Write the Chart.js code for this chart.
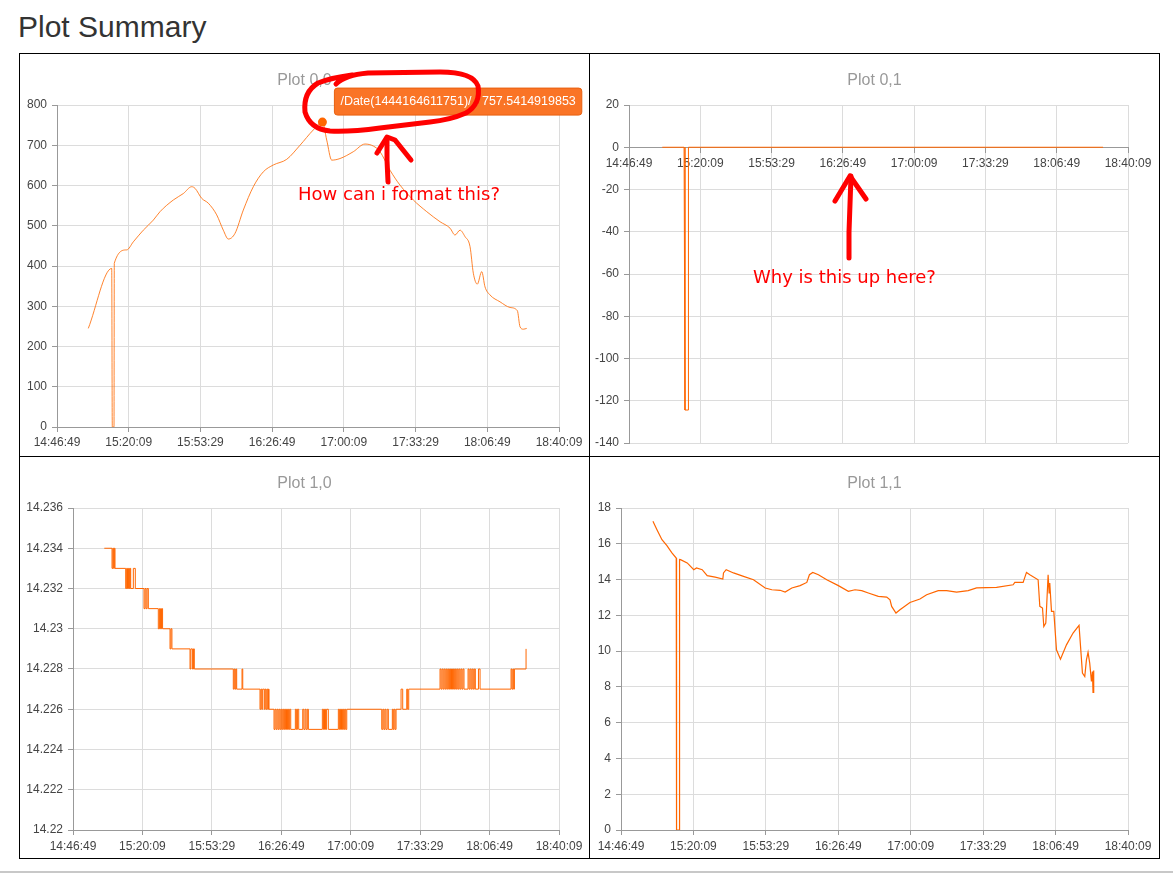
<!DOCTYPE html>
<html>
<head>
<meta charset="utf-8">
<script src="https://cdn.jsdelivr.net/npm/chart.js@4.4.0/dist/chart.umd.min.js"></script>
<style>
html,body{margin:0;padding:0;background:#fff;width:1173px;height:874px;overflow:hidden;}
body{position:relative;font-family:"Liberation Sans",Arial,Helvetica,sans-serif;}
h2{position:absolute;left:18px;top:12px;margin:0;font-size:30px;line-height:30px;font-weight:normal;color:#333;}
.line{position:absolute;background:#000;}
.cell{position:absolute;}
.cell canvas{display:block;}
.note{position:absolute;color:#f00;font-family:"DejaVu Sans",Verdana,sans-serif;font-size:18px;line-height:18px;white-space:nowrap;z-index:6;}
svg.ann{position:absolute;left:0;top:0;pointer-events:none;z-index:5;}
.foot{position:absolute;left:0;top:871px;width:1173px;height:2px;background:#c8c8c8;}
</style>
</head>
<body>
<h2>Plot Summary</h2>

<div class="cell" style="left:20px;top:54px;width:569px;height:402px;"><canvas id="c00" width="569" height="402"></canvas></div>
<div class="cell" style="left:590px;top:54px;width:569px;height:402px;"><canvas id="c01" width="569" height="402"></canvas></div>
<div class="cell" style="left:20px;top:457px;width:569px;height:401px;"><canvas id="c10" width="569" height="401"></canvas></div>
<div class="cell" style="left:590px;top:457px;width:569px;height:401px;"><canvas id="c11" width="569" height="401"></canvas></div>

<div class="line" style="left:19px;top:53px;width:1141px;height:1px;"></div>
<div class="line" style="left:19px;top:858px;width:1141px;height:1px;"></div>
<div class="line" style="left:19px;top:53px;width:1px;height:806px;"></div>
<div class="line" style="left:1159px;top:53px;width:1px;height:806px;"></div>
<div class="line" style="left:589px;top:53px;width:1px;height:806px;"></div>
<div class="line" style="left:19px;top:456px;width:1141px;height:1px;"></div>
<div class="foot"></div>

<svg class="ann" width="1173" height="874" viewBox="0 0 1173 874">
  <g fill="none" stroke="#f00" stroke-width="5" stroke-linecap="round" stroke-linejoin="round">
    <path d="M336 84 Q345 75 368 73 L440 72 Q473 72 478 86 Q481 104 466 113 Q450 120 430 122 L380 128 Q350 132 330 131 Q310 129 305 112 Q303 92 318 83 Q330 78 352 75"/>
    <path d="M388 182 L387 160 L387 138"/>
    <path d="M377 153 L387 137 L395 140 L411 160"/>
    <path d="M849 258 L849 232 L851 176"/>
    <path d="M835 201 L850 176 L866 199"/>
  </g>
</svg>
<div class="note" style="left:298px;top:185px;">How can i format this?</div>
<div class="note" style="left:753px;top:268px;">Why is this up here?</div>

<script>
// ---------- data (x = seconds after the axis start 14:46:49) ----------
const timeAxisStart = '14:46:49';
const timeAxisEnd = '18:40:09';
const timeTickStep = 2000; // seconds between tick labels
const plotTitles = ['Plot 0,0', 'Plot 0,1', 'Plot 1,0', 'Plot 1,1'];

const tooltipDateMs = 1444164611751;

const plot00Points = [
  [873,245],[1526,394],[1542,0],[1590,0],[1598,407],[1944,440],[2128,460],[2407,489],
  [2686,514],[2873,535],[3244,564],[3523,580],[3757,597],[3849,593],[4036,568],[4220,556],
  [4454,527],[4638,489],[4778,467],[4964,481],[5196,539],[5475,597],[5754,634],[6033,651],
  [6406,665],[6777,700],[7148,738],[7402,757.5414919853],[7522,713],[7661,663],[7893,667],
  [8264,684],[8590,703],[8822,698],[9008,684],[9287,638],[9566,601],[9937,564],[10311,535],
  [10682,510],[10961,494],[11100,477],[11240,489],[11379,473],[11519,448],[11611,382],
  [11722,355],[11845,386],[11937,348],[12076,328],[12355,311],[12634,297],[12838,289],
  [12913,249],[13005,243],[13100,245]
];
const plot00YTicks = {min: 0, max: 800, step: 100};

const plot01Points = [
  [934,0],[1545,0],[1571,-124.4],[1660,-124.4],[1668,0],[13300,0]
];
const plot01YTicks = {min: -140, max: 20, step: 20};

const plot10Points = [
  [902,14.234],
  [1124,14.233],[1148,14.234],[1170,14.233],[1192,14.234],[1210,14.233],
  [1518,14.232],[1545,14.233],[1570,14.232],[1598,14.233],[1625,14.232],[1645,14.233],[1662,14.232],
  [1738,14.233],[1795,14.232],
  [2045,14.231],[2075,14.232],[2105,14.231],[2135,14.232],[2170,14.231],
  [2458,14.230],[2490,14.231],[2520,14.230],[2550,14.231],[2580,14.230],
  [2795,14.229],[2822,14.230],[2850,14.229],
  [3371,14.228],[3395,14.229],[3440,14.228],[3470,14.229],[3495,14.228],
  [4618,14.227],[4645,14.228],[4670,14.227],[4692,14.228],[4715,14.227],
  [4869,14.228],[4890,14.227],
  [5387,14.226],[5412,14.227],[5438,14.226],[5464,14.227],
  [5511,14.226],[5535,14.227],[5560,14.226],[5585,14.227],[5610,14.226],[5630,14.227],[5647,14.226],
  [5791,14.225],[5820,14.226],[5850,14.225],[5880,14.226],[5910,14.225],[5940,14.226],[5970,14.225],
  [6000,14.226],[6030,14.225],[6060,14.226],[6090,14.225],[6120,14.226],[6150,14.225],[6180,14.226],
  [6210,14.225],[6240,14.226],[6272,14.225],
  [6405,14.226],[6435,14.225],[6465,14.226],[6502,14.225],
  [6618,14.226],[6650,14.225],[6685,14.226],[6715,14.225],[6750,14.226],[6780,14.225],
  [7183,14.226],[7215,14.225],[7245,14.226],[7275,14.225],[7305,14.226],[7355,14.225],
  [7644,14.226],[7675,14.225],[7705,14.226],[7735,14.225],[7765,14.226],[7795,14.225],[7825,14.226],
  [7855,14.225],[7886,14.226],
  [8894,14.225],[8925,14.226],[8955,14.225],[8985,14.226],[9015,14.225],[9050,14.226],[9084,14.225],
  [9199,14.226],[9225,14.225],[9250,14.226],[9278,14.225],[9306,14.226],
  [9450,14.227],[9498,14.226],
  [9614,14.227],[9640,14.226],[9671,14.227],
  [10573,14.228],[10603,14.227],[10633,14.228],[10663,14.227],[10693,14.228],[10723,14.227],
  [10753,14.228],[10783,14.227],[10813,14.228],[10843,14.227],[10873,14.228],[10903,14.227],
  [10933,14.228],[10963,14.227],[10993,14.228],[11023,14.227],[11053,14.228],[11083,14.227],
  [11113,14.228],[11143,14.227],[11173,14.228],[11203,14.227],[11233,14.228],[11263,14.227],
  [11380,14.228],[11410,14.227],[11440,14.228],[11470,14.227],[11500,14.228],[11530,14.227],
  [11560,14.228],[11590,14.227],
  [11680,14.228],[11726,14.227],
  [12619,14.228],[12645,14.227],[12672,14.228],[12695,14.227],[12715,14.228],
  [13051,14.229]
];
const plot10YTicks = {min: 14.22, max: 14.236, step: 0.002};

const plot11Points = [
  [882,17.26],[993,16.79],[1131,16.23],[1268,15.9],[1406,15.49],[1525,15.2],[1534,0],[1610,0],
  [1617,15.12],[1644,15.11],[1828,14.93],[2010,14.55],[2085,14.65],[2242,14.55],[2380,14.22],
  [2600,14.14],[2812,14.03],[2830,14.37],[2904,14.55],[3107,14.37],[3383,14.18],[3659,13.99],
  [3981,13.53],[4165,13.43],[4394,13.4],[4532,13.3],[4717,13.53],[4946,13.66],[5131,13.84],
  [5203,14.27],[5296,14.4],[5451,14.27],[5682,13.99],[6002,13.66],[6278,13.34],[6462,13.43],
  [6647,13.38],[6829,13.25],[7105,13.06],[7337,13.02],[7428,12.87],[7474,12.5],[7593,12.13],
  [7703,12.31],[7979,12.72],[8255,12.91],[8440,13.15],[8760,13.38],[8991,13.38],[9267,13.3],
  [9587,13.38],[9819,13.53],[10370,13.56],[10828,13.71],[10875,13.84],[11104,13.84],[11197,14.4],
  [11289,14.27],[11518,13.99],[11565,12.5],[11639,12.41],[11675,11.38],[11730,11.57],[11749,12.31],
  [11794,14.27],[11822,13.25],[11840,13.81],[11887,12.22],[11951,12.22],[12025,10.07],[12135,9.55],
  [12301,10.35],[12483,11.01],[12648,11.44],[12742,8.77],[12806,8.58],[12852,9.51],[12897,9.93],
  [12943,9.33],[12990,8.3],[13018,8.86],[13034,7.69],[13053,8.92]
];
const plot11YTicks = {min: 0, max: 18, step: 2};

// ---------- helpers ----------
function clockToSeconds(s) { const p = s.split(':').map(Number); return p[0]*3600 + p[1]*60 + p[2]; }
const axisStartSec = clockToSeconds(timeAxisStart);
const axisSpan = clockToSeconds(timeAxisEnd) - axisStartSec;
function fmtClock(offset) {
  const t = Math.round(axisStartSec + offset);
  const h = Math.floor(t / 3600), m = Math.floor((t % 3600) / 60), s = t % 60;
  return [h, m, s].map(n => String(n).padStart(2, '0')).join(':');
}
function toXY(points) { return points.map(p => ({x: p[0], y: p[1]})); }

Chart.defaults.font.family = '"Liberation Sans", Arial, Helvetica, sans-serif';
Chart.defaults.font.size = 12;

const GRID = '#dcdcdc', AXIS = '#999', TICK = '#444', ORANGE = '#ff6600';

Chart.Tooltip.positioners.upRight = function(elements) {
  if (!elements.length) return false;
  const el = elements[0].element;
  return {x: el.x + 15, y: el.y - 7, xAlign: 'left', yAlign: 'bottom'};
};

function makeChart(id, o) {
  const xScale = {
    type: 'linear', min: 0, max: axisSpan,
    grid: {color: GRID, tickColor: AXIS, tickLength: 5, drawTicks: true},
    border: {color: AXIS, width: 1},
    ticks: {stepSize: timeTickStep, autoSkip: false, maxRotation: 0, minRotation: 0, color: TICK,
            font: {size: 12}, padding: o.xPad || 3, callback: v => fmtClock(v)},
    afterFit: s => {
      if (o.xHeight) s.height = o.xHeight;
      s.paddingRight = o.padRight;
    }
  };
  if (o.xAtZero) xScale.position = {y: 0};
  const yScale = {
    type: 'linear', min: o.yTicks.min, max: o.yTicks.max,
    grid: {color: GRID, tickColor: AXIS, tickLength: 5, drawTicks: true},
    border: {color: AXIS, width: 1},
    ticks: {stepSize: o.yTicks.step, color: TICK, font: {size: 12}, padding: 5,
            callback: v => String(parseFloat(Number(v).toFixed(3)))},
    afterFit: s => { s.width = o.yWidth; }
  };
  return new Chart(document.getElementById(id), {
    type: 'line',
    data: {datasets: [Object.assign({
      data: toXY(o.points),
      borderColor: o.color || ORANGE,
      borderWidth: o.lineWidth || 1,
      pointRadius: 0,
      pointHitRadius: 0,
      pointHoverRadius: 4.5,
      pointHoverBorderWidth: 0,
      pointHoverBackgroundColor: ORANGE,
      pointHoverBorderColor: ORANGE,
      fill: false
    }, o.dataset || {})]},
    options: {
      responsive: false, animation: false, devicePixelRatio: 1, events: [],
      layout: {padding: {top: 0, left: 0, right: 0, bottom: o.padBottom || 0}},
      scales: {x: xScale, y: yScale},
      plugins: {
        legend: {display: false},
        title: {display: true, text: o.title, color: '#999', font: {size: 16, weight: 'normal'},
                padding: {top: 17.4, bottom: 14.4}},
        tooltip: {
          enabled: true, position: 'upRight', displayColors: false,
          backgroundColor: '#fa7426', borderColor: '#e8600f', borderWidth: 1,
          cornerRadius: 3, caretSize: 0, caretPadding: 0,
          padding: {left: 6, right: 6, top: 6, bottom: 6},
          bodyColor: '#fff', bodyFont: {size: 12.5},
          callbacks: {
            title: () => '',
            label: ctx => '/Date(' + tooltipDateMs + ')/ : ' + ctx.parsed.y
          }
        }
      }
    }
  });
}

const c00 = makeChart('c00', {title: plotTitles[0], points: plot00Points, yTicks: plot00YTicks,
  yWidth: 37, xHeight: 29, padRight: 30, xPad: 3, color: 'rgba(255,110,10,0.85)',
  dataset: {cubicInterpolationMode: 'monotone'}});
makeChart('c01', {title: plotTitles[1], points: plot01Points, yTicks: plot01YTicks,
  yWidth: 39, padRight: 31, padBottom: 13, xPad: 4, xAtZero: true});
makeChart('c10', {title: plotTitles[2], points: plot10Points, yTicks: plot10YTicks,
  yWidth: 53, xHeight: 28, padRight: 30, xPad: 4, dataset: {stepped: true}});
makeChart('c11', {title: plotTitles[3], points: plot11Points, yTicks: plot11YTicks,
  yWidth: 31, xHeight: 28, padRight: 31, xPad: 4, lineWidth: 1.2});

// show the tooltip on the peak point of Plot 0,0
const peakIndex = plot00Points.findIndex(p => p[0] === 7402);
const act = [{datasetIndex: 0, index: peakIndex}];
c00.setActiveElements(act);
c00.tooltip.setActiveElements(act, {x: 0, y: 0});
c00.update();
</script>
</body>
</html>
